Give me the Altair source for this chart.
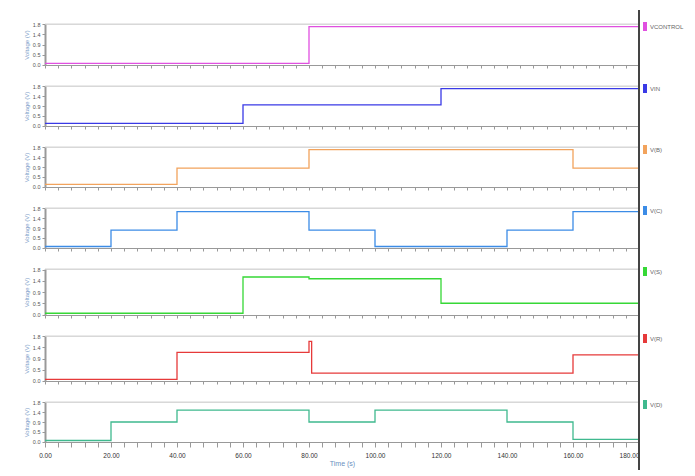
import altair as alt
import pandas as pd

names = ["VCONTROL", "VIN", "V(B)", "V(C)", "V(S)", "V(R)", "V(D)"]
colors = ["#e050e0", "#3a3ae6", "#f2a35c", "#3c8ce6", "#36d836", "#e63a3a", "#3fb98e"]

t_vcontrol = [0, 80, 180]
v_vcontrol = [0.05, 1.7, 1.7]
t_vin = [0, 60, 120, 180]
v_vin = [0.1, 0.95, 1.7, 1.7]
t_vb = [0, 40, 80, 160, 180]
v_vb = [0.1, 0.85, 1.7, 0.85, 0.85]
t_vc = [0, 20, 40, 80, 100, 140, 160, 180]
v_vc = [0.05, 0.8, 1.65, 0.8, 0.05, 0.8, 1.65, 1.65]
t_vs = [0, 60, 80, 120, 180]
v_vs = [0.05, 1.5, 1.43, 0.45, 0.45]
t_vr = [0, 40, 80, 80, 80.8, 160, 180]
v_vr = [0.05, 1.15, 1.15, 1.6, 0.3, 1.05, 1.05]
t_vd = [0, 20, 40, 80, 100, 140, 160, 180]
v_vd = [0.05, 0.9, 1.45, 0.9, 1.45, 0.9, 0.1, 0.1]

series_t = [t_vcontrol, t_vin, t_vb, t_vc, t_vs, t_vr, t_vd]
series_v = [v_vcontrol, v_vin, v_vb, v_vc, v_vs, v_vr, v_vd]

y_ticks = [0.0, 0.45, 0.9, 1.35, 1.8]
x_ticks = list(range(0, 181, 4))

W = 594
heights = [41, 40, 40, 40, 46, 45, 40]
SP = 21

panels = []
n = len(names)
for i in range(n):
    H = heights[i]
    df = pd.DataFrame({"t": series_t[i], "v": series_v[i], "k": list(range(len(series_t[i])))})
    last = i == n - 1
    xaxis = alt.Axis(
        values=x_ticks,
        labelExpr="datum.value % 20 == 0 ? format(datum.value, '.2f') : ''" if last else "''",
        labels=last,
        labelAlign={"condition": {"test": "datum.value == 180", "value": "right"}, "value": "center"},
        title="Time (s)" if last else None,
        tickSize=5 if last else 3,
        tickColor="#999",
        domainColor="#999",
        labelFontSize=6.5,
        labelPadding=5,
        labelColor="#333",
        titleFontSize=7,
        titleFontWeight="normal",
        titleColor="#6a8fc0",
        titlePadding=1,
        grid=False,
        labelFlush=False,
    )
    yaxis = alt.Axis(
        values=y_ticks,
        title="Voltage (V)",
        titleFontSize=6,
        titleFontWeight="normal",
        titleColor="#7a9cc8",
        titlePadding=3,
        labelFontSize=5.5,
        labelColor="#555",
        labelOverlap=False,
        labelPadding=2,
        tickSize=3,
        tickColor="#999",
        domainColor="#999",
        domainWidth=2,
        grid=False,
        labelBound=False,
    )
    line = alt.Chart(df).mark_line(
        interpolate="step-after", strokeWidth=1.3, color=colors[i]
    ).encode(
        x=alt.X("t:Q", scale=alt.Scale(domain=[0, 180], nice=False), axis=xaxis),
        y=alt.Y("v:Q", scale=alt.Scale(domain=[-0.02, 1.82], nice=False), axis=yaxis),
        order="k:O",
    )
    lab = pd.DataFrame({"label": [names[i]]})
    top = alt.Chart(lab).mark_rule(color="#d4d4d4", strokeWidth=1).encode(
        x=alt.value(0), x2=alt.value(W), y=alt.value(0)
    )
    y0 = -14 if i == 0 else -11
    y1 = H + 28 if last else H + 11
    vline = alt.Chart(lab).mark_rule(color="#444444", strokeWidth=2).encode(
        x=alt.value(W), y=alt.value(y0), y2=alt.value(y1)
    )
    marker = alt.Chart(lab).mark_rect(color=colors[i]).encode(
        x=alt.value(W + 4), x2=alt.value(W + 8), y=alt.value(-2), y2=alt.value(7)
    )
    txt = alt.Chart(lab).mark_text(
        align="left", baseline="middle", fontSize=6, color="#666", font="Liberation Sans"
    ).encode(x=alt.value(W + 11), y=alt.value(3), text="label:N")
    panels.append(
        alt.layer(top, line, vline, marker, txt).properties(width=W, height=H)
    )

chart = alt.vconcat(*panels, spacing=SP, bounds="flush").properties(
    padding={"left": 14, "top": 0, "right": 0, "bottom": 0}
).configure_view(stroke=None).configure(font="Liberation Sans")

chart.save("out.html", embed_options={"renderer": "svg", "actions": False})
